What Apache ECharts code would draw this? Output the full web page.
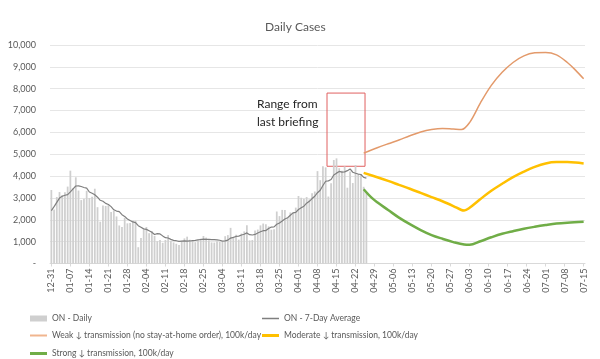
<!DOCTYPE html>
<html>
<head>
<meta charset="utf-8">
<script src="https://cdn.jsdelivr.net/npm/echarts@6/dist/echarts.min.js"></script>
<style>html,body{margin:0;padding:0;background:#fff;}#c{width:600px;height:359px;}</style>
</head>
<body>
<div id="c"></div>
<script>
// Date categories: 12-31 through 07-15 (daily)
const startDay = Date.UTC(2020, 11, 31);
const dayCount = 197;
const categories = [];
for (let i = 0; i < dayCount; i++) {
  const d = new Date(startDay + i * 86400000);
  categories.push(String(d.getUTCMonth() + 1).padStart(2, '0') + '-' + String(d.getUTCDate()).padStart(2, '0'));
}

// ON - Daily (12-31 .. 04-26)
const daily = [
  3363, 2476, 3045, 3270, 3128, 3266, 3519, 4249, 3443, 3945,
  3338, 2903, 2961, 3326, 2998, 3056, 3422, 2578, 1913, 2655,
  2632, 2662, 2359, 2417, 2154, 1740, 1670, 2093, 1837, 1848,
  1969, 1958, 745, 1172, 1563, 1670, 1388, 1489, 1265, 1022,
  1072, 945, 1076, 1300, 1041, 964, 904, 847, 1038, 1150,
  1228, 1087, 1058, 975, 1054, 1138, 1258, 1185, 1062, 966,
  958, 1023, 994, 990, 1250, 1299, 1631, 1185, 1316, 1092,
  1371, 1468, 1747, 1058, 1074, 1508, 1553, 1745, 1829, 1791,
  1699, 1546, 1571, 2380, 2169, 2453, 2448, 2094, 2336, 2333,
  2557, 3089, 3009, 2958, 3041, 2938, 3215, 3295, 4227, 3813,
  4456, 4401, 3065, 3670, 4736, 4812, 4362, 4250, 4447, 3469,
  4212, 3682, 4505, 4094, 4094, 3510, 3265
];

// ON - 7-Day Average
const avg7 = [
  2420, 2600, 2800, 2994, 3076, 3125, 3152, 3279, 3417, 3546,
  3555, 3523, 3480, 3452, 3273, 3218, 3143, 3035, 2893, 2850,
  2751, 2703, 2603, 2459, 2399, 2374, 2233, 2156, 2039, 1966,
  1902, 1874, 1731, 1660, 1585, 1561, 1495, 1426, 1327, 1367,
  1353, 1264, 1180, 1167, 1103, 1060, 1043, 1011, 1024, 1035,
  1025, 1031, 1045, 1055, 1084, 1099, 1114, 1108, 1104, 1091,
  1089, 1084, 1064, 1025, 1035, 1069, 1164, 1196, 1238, 1252,
  1306, 1337, 1401, 1320, 1304, 1331, 1397, 1450, 1502, 1508,
  1600, 1667, 1676, 1794, 1855, 1944, 2038, 2094, 2207, 2316,
  2341, 2473, 2552, 2625, 2760, 2846, 2972, 3078, 3240, 3355,
  3569, 3764, 3782, 3847, 4053, 4136, 4215, 4185, 4192, 4249,
  4327, 4176, 4132, 4094, 4072, 3938, 3909
];

// Projections (date, value)
const weak = [
  ['04-25', 5050], ['04-30', 5300], ['05-04', 5480], ['05-08', 5650], ['05-12', 5850],
  ['05-16', 6020], ['05-20', 6130], ['05-24', 6180], ['05-28', 6150], ['05-31', 6130],
  ['06-03', 6450], ['06-07', 7350], ['06-11', 8150], ['06-15', 8750], ['06-19', 9200],
  ['06-23', 9500], ['06-27', 9640], ['07-01', 9660], ['07-05', 9550], ['07-09', 9200],
  ['07-12', 8850], ['07-15', 8450]
];
const moderate = [
  ['04-25', 4150], ['04-30', 3950], ['05-04', 3780], ['05-08', 3600], ['05-12', 3420],
  ['05-16', 3230], ['05-20', 3040], ['05-24', 2850], ['05-28', 2630], ['05-31', 2450],
  ['06-01', 2430], ['06-03', 2550], ['06-07', 2950], ['06-11', 3330], ['06-15', 3650],
  ['06-19', 3950], ['06-23', 4200], ['06-27', 4420], ['07-01', 4580], ['07-05', 4640],
  ['07-09', 4640], ['07-12', 4620], ['07-15', 4580]
];
const strong = [
  ['04-25', 3400], ['04-28', 3000], ['04-30', 2800], ['05-04', 2450], ['05-08', 2100],
  ['05-12', 1800], ['05-16', 1530], ['05-20', 1300], ['05-24', 1130], ['05-28', 980],
  ['06-01', 870], ['06-03', 860], ['06-07', 1020], ['06-11', 1200], ['06-15', 1360],
  ['06-19', 1480], ['06-23', 1590], ['06-27', 1680], ['07-01', 1760], ['07-05', 1830],
  ['07-09', 1870], ['07-15', 1910]
];

const seriesNames = {
  daily: 'ON - Daily',
  avg: 'ON - 7-Day Average',
  weak: 'Weak ↓ transmission (no stay-at-home order), 100k/day',
  moderate: 'Moderate ↓ transmission, 100k/day',
  strong: 'Strong ↓ transmission, 100k/day'
};

// "Range from last briefing" box
const rangeBox = { from: '04-14', to: '04-28', low: 4450, high: 7800 };

const yTicks = { min: 0, max: 10000, interval: 1000 };

const FONT = 'Lato, "Liberation Sans", sans-serif';
const TXT = '#595959';

function legendItem(name, left, top, iconH) {
  return {
    left: left, top: top, itemGap: 0, itemWidth: 17, itemHeight: iconH,
    icon: 'rect', selectedMode: false,
    textStyle: { fontSize: 8.5, color: TXT, fontFamily: FONT, padding: [0, 0, 0, 0] },
    data: [name]
  };
}

const chart = echarts.init(document.getElementById('c'), null, { renderer: 'canvas' });
chart.setOption({
  animation: false,
  backgroundColor: '#fff',
  textStyle: { fontFamily: FONT },
  title: {
    text: 'Daily Cases', left: 260, top: 16,
    textStyle: { fontFamily: FONT, fontSize: 12, fontWeight: 'normal', color: TXT }
  },
  grid: { left: 50, right: 15, top: 45, bottom: 95.5, containLabel: false },
  xAxis: {
    type: 'category', data: categories, boundaryGap: true,
    axisLine: { lineStyle: { color: '#d9d9d9' } },
    axisTick: { show: true, interval: 6, alignWithLabel: true, length: 3, lineStyle: { color: '#d9d9d9' } },
    axisLabel: { interval: 6, rotate: 90, fontSize: 9, color: TXT, fontFamily: FONT, margin: 5 },
    splitLine: { show: false }
  },
  yAxis: {
    type: 'value', min: yTicks.min, max: yTicks.max, interval: yTicks.interval,
    axisLine: { show: false }, axisTick: { show: false },
    axisLabel: {
      fontSize: 9, color: TXT, fontFamily: FONT, margin: 14,
      formatter: v => v === 0 ? '-' : v.toLocaleString('en-US')
    },
    splitLine: { lineStyle: { color: '#e6e6e6', width: 1 } }
  },
  legend: [
    legendItem(seriesNames.daily, 25, 309, 6),
    legendItem(seriesNames.avg, 257, 309, 1.5),
    legendItem(seriesNames.weak, 25, 326, 2),
    legendItem(seriesNames.moderate, 257, 326, 3),
    legendItem(seriesNames.strong, 25, 344, 3)
  ],
  graphic: [{
    type: 'text', left: 257, top: 95,
    style: {
      text: 'Range from\nlast briefing', fill: '#262626',
      font: '12px ' + FONT, lineHeight: 18
    }
  }],
  series: [
    {
      name: seriesNames.daily, type: 'bar', data: daily, barCategoryGap: '35%',
      itemStyle: { color: '#cfcfcf' },
      markArea: {
        silent: true,
        itemStyle: { color: 'rgba(0,0,0,0)', borderColor: '#e06060', borderWidth: 1 },
        data: [[{ xAxis: rangeBox.from, yAxis: rangeBox.high }, { xAxis: rangeBox.to, yAxis: rangeBox.low }]]
      }
    },
    {
      name: seriesNames.avg, type: 'line', data: avg7, symbol: 'none',
      lineStyle: { color: '#7f7f7f', width: 1.2 }, itemStyle: { color: '#7f7f7f' }
    },
    {
      name: seriesNames.weak, type: 'line', data: weak,
      symbol: 'none', smooth: 0.35,
      lineStyle: { color: '#e39a6b', width: 1.5 }, itemStyle: { color: '#f0b58e' }
    },
    {
      name: seriesNames.moderate, type: 'line', data: moderate,
      symbol: 'none', smooth: 0.35,
      lineStyle: { color: '#ffc000', width: 2.5 }, itemStyle: { color: '#ffc000' }
    },
    {
      name: seriesNames.strong, type: 'line', data: strong,
      symbol: 'none', smooth: 0.35,
      lineStyle: { color: '#70ad47', width: 2.5 }, itemStyle: { color: '#70ad47' }
    }
  ]
});
</script>
</body>
</html>
